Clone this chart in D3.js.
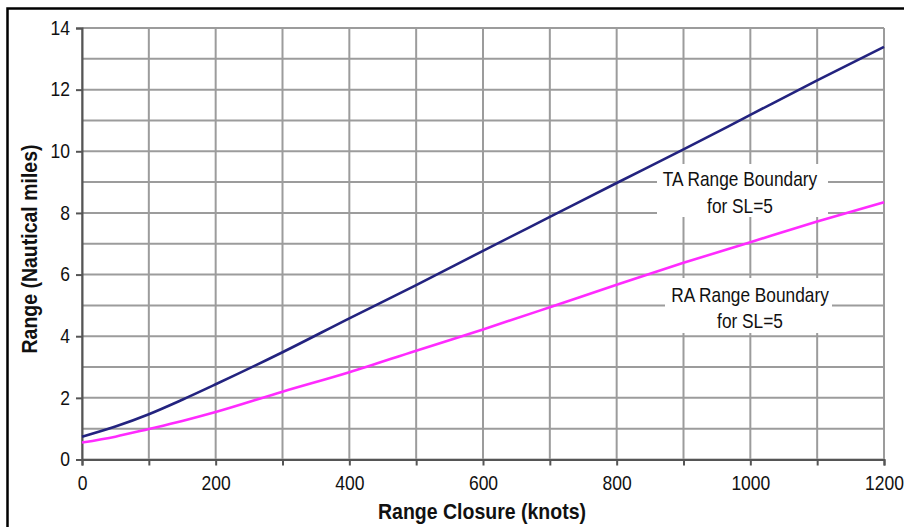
<!DOCTYPE html>
<html>
<head>
<meta charset="utf-8">
<script src="https://cdn.jsdelivr.net/npm/d3@7"></script>
<style>
  html, body { margin: 0; padding: 0; background: #fff; }
  svg { display: block; }
  text { font-family: "Liberation Sans", Arial, sans-serif; fill: #111; }
</style>
</head>
<body>
<svg id="chart" width="904" height="527"></svg>
<script>
// ---- data ----
const knots = [0, 50, 100, 150, 200, 300, 400, 500, 600, 700, 800, 900, 1000, 1100, 1200];
const taRange = [0.74, 1.07, 1.47, 1.94, 2.44, 3.48, 4.58, 5.66, 6.77, 7.87, 8.97, 10.06, 11.18, 12.30, 13.39];
const raRange = [0.55, 0.74, 0.99, 1.25, 1.54, 2.20, 2.83, 3.53, 4.22, 4.94, 5.67, 6.38, 7.05, 7.72, 8.35];
const xTicks = [0, 100, 200, 300, 400, 500, 600, 700, 800, 900, 1000, 1100, 1200];
const xTickLabels = ["0", "", "200", "", "400", "", "600", "", "800", "", "1000", "", "1200"];
const yTicks = [0, 2, 4, 6, 8, 10, 12, 14];
const yGrid = [0, 1, 2, 3, 4, 5, 6, 7, 8, 9, 10, 11, 12, 13, 14];
const seriesNames = ["TA Range Boundary", "RA Range Boundary"];
const labelLine2 = "for SL=5";

const svg = d3.select("#chart");
const SY = 1.13; // vertical glyph stretch

const x = d3.scaleLinear().domain([0, 1200]).range([82, 884]);
const y = d3.scaleLinear().domain([0, 14]).range([459.5, 28]);

// frame
svg.append("rect").attr("x", 7.5).attr("y", 8.5).attr("width", 920).attr("height", 540)
  .attr("fill", "none").attr("stroke", "#000").attr("stroke-width", 2.5);

// grid
const grid = svg.append("g");
grid.selectAll("line.h").data(yGrid).join("line")
  .attr("x1", x(0)).attr("x2", x(1200))
  .attr("y1", d => y(d)).attr("y2", d => y(d))
  .attr("stroke", "#9c9c9c").attr("stroke-width", 2);
grid.selectAll("line.v").data(xTicks).join("line")
  .attr("y1", y(0)).attr("y2", y(14))
  .attr("x1", d => x(d)).attr("x2", d => x(d))
  .attr("stroke", "#9c9c9c").attr("stroke-width", 2);

// label boxes (white, cover grid)
function labelBox(x0, y0, w, h) {
  svg.append("rect").attr("x", x0).attr("y", y0).attr("width", w).attr("height", h).attr("fill", "#fff");
}
labelBox(657, 164, 171, 53);
labelBox(665, 278, 167, 55);

// axes
const xAxis = d3.axisBottom(x).tickValues(xTicks).tickSize(6).tickPadding(9)
  .tickFormat((d, i) => xTickLabels[i]);
const gx = svg.append("g").attr("transform", `translate(0,${y(0)})`).call(xAxis);
gx.select(".domain").attr("stroke", "#555").attr("stroke-width", 2);
gx.selectAll(".tick line").attr("stroke", "#555").attr("stroke-width", 2);
gx.selectAll(".tick text").attr("font-size", 17.5).attr("fill", "#111")
  .attr("transform", `scale(1,${SY})`);

const yAxis = d3.axisLeft(y).tickValues(yTicks).tickSize(6).tickPadding(6).tickFormat(d3.format("d"));
const gy = svg.append("g").attr("transform", `translate(${x(0)},0)`).call(yAxis);
gy.select(".domain").attr("stroke", "#555").attr("stroke-width", 2);
gy.selectAll(".tick line").attr("stroke", "#555").attr("stroke-width", 2);
gy.selectAll(".tick text").attr("font-size", 17.5).attr("fill", "#111")
  .attr("transform", `scale(1,${SY})`);

// lines
const line = d3.line().curve(d3.curveMonotoneX);
const taPts = knots.map((k, i) => [x(k), y(taRange[i])]);
const raPts = knots.map((k, i) => [x(k), y(raRange[i])]);
svg.append("path").attr("d", line(raPts)).attr("fill", "none")
  .attr("stroke", "#ff2bff").attr("stroke-width", 2.6);
svg.append("path").attr("d", line(taPts)).attr("fill", "none")
  .attr("stroke", "#23237f").attr("stroke-width", 2.6);

// text helper
function txt(str, tx, ty, opts = {}) {
  const t = svg.append("text")
    .attr("transform", `translate(${tx},${ty})${opts.rotate ? " rotate(" + opts.rotate + ")" : ""} scale(1,${SY})`)
    .attr("text-anchor", opts.anchor || "middle")
    .attr("font-size", opts.size || 17.3)
    .attr("font-weight", opts.weight || "normal")
    .text(str);
  return t;
}

// series labels
txt(seriesNames[0], 740, 186);
txt(labelLine2, 740, 213);
txt(seriesNames[1], 750, 302);
txt(labelLine2, 750, 328);

// axis titles
txt("Range Closure (knots)", 482, 519, { size: 19.5, weight: "bold" });
txt("Range (Nautical miles)", 37, 249, { size: 19.5, weight: "bold", rotate: -90 });
</script>
</body>
</html>
